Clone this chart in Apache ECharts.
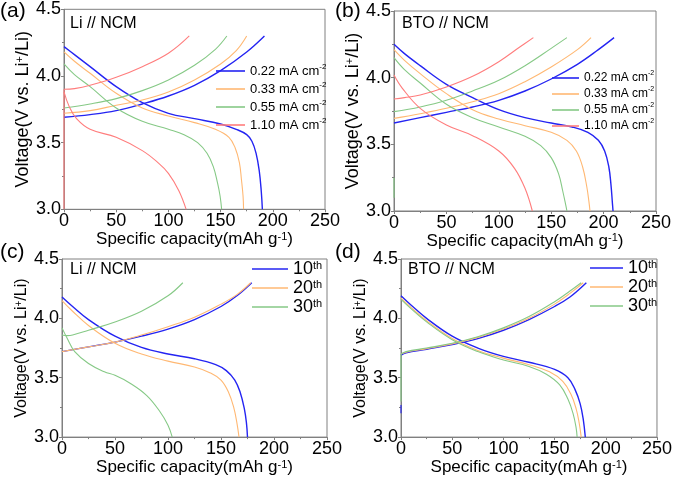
<!DOCTYPE html>
<html><head><meta charset="utf-8">
<script src="https://cdn.jsdelivr.net/npm/echarts@6/dist/echarts.min.js"></script>
<style>html,body{margin:0;padding:0;background:#fff}#c{width:675px;height:477px}</style>
</head><body><div id="c"></div>
<script>
// ---- tick / category data ----
const xMin = 0, xMax = 250, xStep = 50;
const yMin = 3.0, yMax = 4.5, yStep = 0.5;
const rateNames = ['0.22 mA cm-2', '0.33 mA cm-2', '0.55 mA cm-2', '1.10 mA cm-2'];
const cycleNames = ['10th', '20th', '30th'];
const panelLabels = ['(a)', '(b)', '(c)', '(d)'];
const panelTitles = ['Li // NCM', 'BTO // NCM', 'Li // NCM', 'BTO // NCM'];

// ---- (a) Li // NCM, rate ----
const aDis022 = [[0,4.22],[10,4.16],[25,4.07],[50,3.92],[75,3.80],[100,3.72],[125,3.68],[150,3.64],[165,3.60],[175,3.56],[180,3.51],[184,3.42],[187,3.29],[189,3.13],[190,3.0]];
const aChg022 = [[0,3.69],[25,3.71],[50,3.74],[75,3.79],[100,3.85],[125,3.93],[150,4.04],[175,4.18],[192,4.30]];
const aDis033 = [[0,4.18],[10,4.11],[25,4.02],[50,3.87],[75,3.76],[100,3.70],[125,3.65],[145,3.60],[158,3.54],[164,3.46],[168,3.35],[170,3.22],[171.5,3.1],[172,3.0]];
const aChg033 = [[0,3.72],[25,3.74],[50,3.78],[75,3.82],[100,3.88],[125,3.97],[150,4.09],[165,4.19],[175,4.30]];
const aDis055 = [[0,4.09],[10,4.01],[25,3.92],[50,3.76],[75,3.66],[100,3.60],[115,3.56],[128,3.50],[137,3.42],[143,3.32],[147,3.20],[149.5,3.1],[151,3.0]];
const aChg055 = [[0,3.76],[25,3.79],[50,3.83],[75,3.89],[100,3.97],[125,4.08],[145,4.20],[156,4.30]];
const aDis110 = [[0,3.88],[5,3.77],[12,3.68],[25,3.60],[50,3.54],[75,3.44],[90,3.35],[100,3.27],[110,3.14],[117,3.0]];
const aChg110 = [[0,3.90],[10,3.905],[25,3.93],[50,3.99],[75,4.07],[100,4.17],[120,4.30]];
const aRise110 = [[0,3.0],[0,3.90]];

// ---- (b) BTO // NCM, rate ----
const bDis022 = [[0,4.25],[10,4.18],[25,4.09],[50,3.95],[75,3.85],[100,3.76],[125,3.70],[150,3.66],[170,3.63],[185,3.59],[195,3.53],[201,3.45],[205,3.33],[207,3.2],[208.5,3.05],[209,3.0]];
const bChg022 = [[0,3.66],[25,3.70],[50,3.74],[75,3.78],[100,3.83],[125,3.90],[150,3.99],[175,4.10],[195,4.21],[210,4.30]];
const bDis033 = [[0,4.21],[10,4.13],[25,4.03],[50,3.88],[75,3.76],[100,3.69],[125,3.64],[150,3.59],[165,3.53],[174,3.45],[180,3.33],[184,3.18],[186,3.07],[187,3.0]];
const bChg033 = [[0,3.695],[25,3.73],[50,3.77],[75,3.82],[100,3.88],[125,3.97],[150,4.08],[175,4.21],[188,4.30]];
const bDis055 = [[0,4.15],[10,4.06],[25,3.96],[50,3.80],[75,3.70],[100,3.63],[125,3.56],[140,3.49],[150,3.40],[157,3.28],[161,3.15],[164,3.04],[165,3.0]];
const bChg055 = [[0,3.745],[25,3.78],[50,3.83],[75,3.90],[100,3.98],[125,4.09],[150,4.22],[165,4.30]];
const bDis110 = [[0,4.02],[8,3.92],[25,3.77],[50,3.645],[75,3.565],[100,3.45],[115,3.32],[125,3.17],[132,3.0]];
const bChg110 = [[0,3.84],[10,3.85],[25,3.87],[50,3.93],[75,4.01],[100,4.12],[120,4.23],[133,4.30]];
const bRise055 = [[0,3.1],[0,3.25]];

// ---- (c) Li // NCM, cycles ----
const cDis10 = [[0,4.18],[10,4.10],[25,3.99],[50,3.85],[75,3.755],[100,3.70],[125,3.66],[145,3.61],[155,3.56],[163,3.48],[168,3.38],[172,3.24],[174,3.12],[175,3.0]];
const cChg10 = [[0,3.72],[25,3.76],[50,3.80],[75,3.85],[100,3.91],[125,3.99],[150,4.10],[165,4.19],[179,4.30]];
const cDis20 = [[0,4.15],[10,4.06],[25,3.94],[50,3.79],[75,3.70],[100,3.64],[125,3.59],[140,3.54],[150,3.48],[157,3.38],[162,3.25],[165,3.12],[167,3.0]];
const cChg20 = [[0,3.72],[25,3.76],[50,3.80],[75,3.86],[100,3.93],[125,4.01],[150,4.12],[165,4.20],[178,4.30]];
const cDis30 = [[0,3.92],[5,3.83],[12,3.72],[25,3.62],[40,3.55],[50,3.52],[65,3.45],[80,3.35],[92,3.22],[100,3.1],[104,3.0]];
const cChg30 = [[0,3.86],[5,3.855],[10,3.86],[25,3.90],[50,3.97],[75,4.06],[100,4.19],[114,4.30]];

// ---- (d) BTO // NCM, cycles ----
const dDis10 = [[0,4.19],[10,4.11],[25,4.00],[50,3.85],[75,3.75],[100,3.68],[125,3.63],[150,3.57],[163,3.50],[170,3.40],[175,3.28],[178,3.15],[180,3.0]];
const dChg10 = [[0,3.69],[5,3.71],[25,3.74],[50,3.78],[75,3.83],[100,3.90],[125,3.99],[150,4.10],[165,4.18],[181,4.30]];
const dDis20 = [[0,4.17],[10,4.09],[25,3.98],[50,3.83],[75,3.73],[100,3.665],[125,3.61],[145,3.55],[158,3.47],[166,3.36],[171,3.24],[174,3.12],[176,3.0]];
const dChg20 = [[0,3.70],[5,3.715],[25,3.745],[50,3.785],[75,3.84],[100,3.91],[125,4.00],[150,4.12],[165,4.21],[178,4.30]];
const dDis30 = [[0,4.16],[10,4.08],[25,3.97],[50,3.82],[75,3.72],[100,3.65],[125,3.595],[142,3.53],[155,3.44],[163,3.32],[168,3.2],[171,3.08],[172,3.0]];
const dChg30 = [[0,3.70],[5,3.72],[25,3.75],[50,3.79],[75,3.845],[100,3.92],[125,4.015],[150,4.14],[165,4.23],[176,4.30]];
const dRise10 = [[0,3.2],[0,3.27]];
const dRise30 = [[0,3.3],[0,3.70]];

const colors = ['#2424f2', '#ffb873', '#86c986', '#ff7d7d'];
const FONT = '"Liberation Sans", Arial, sans-serif';

const grids = [
  {left: 64, top: 9.3, width: 261, height: 200},
  {left: 394, top: 11, width: 262, height: 200},
  {left: 62, top: 259, width: 265, height: 183},
  {left: 401, top: 259, width: 259, height: 183}
];
const xNameGap = [15, 15, 8, 8];
const yNameGap = [32, 30, 31, 27];
const yNameSize = [18, 18, 16, 16];

const supRich = (size, lh) => ({ sup: { fontSize: Math.round(size * 0.62), verticalAlign: 'top', fontFamily: FONT, color: '#000', lineHeight: lh, padding: [0, 0, size * 0.35, 0] } });

const xAxes = grids.map((g, i) => ({
  type: 'value', gridIndex: i, min: xMin, max: xMax, interval: xStep,
  name: 'Specific capacity(mAh g{sup|-1})', nameLocation: 'middle', nameGap: xNameGap[i],
  nameTextStyle: { fontSize: 17, fontFamily: FONT, color: '#000', rich: supRich(17) },
  axisLine: { show: true, onZero: false, lineStyle: { color: '#808080', width: 1 } },
  axisTick: { show: true, length: 3, lineStyle: { color: '#808080' } },
  minorTick: { show: true, splitNumber: 2, length: 2, lineStyle: { color: '#808080' } },
  splitLine: { show: false },
  axisLabel: { fontSize: 18, fontFamily: FONT, color: '#000', margin: 3 }
}));
const yAxes = grids.map((g, i) => ({
  type: 'value', gridIndex: i, min: yMin, max: yMax, interval: yStep,
  name: 'Voltage(V vs. Li{sup|+}/Li)', nameLocation: 'middle', nameGap: yNameGap[i], nameRotate: 90,
  nameTextStyle: { fontSize: yNameSize[i], fontFamily: FONT, color: '#000', rich: supRich(yNameSize[i]) },
  axisLine: { show: true, onZero: false, lineStyle: { color: '#808080', width: 1 } },
  axisTick: { show: true, length: 3, lineStyle: { color: '#808080' } },
  minorTick: { show: true, splitNumber: 2, length: 2, lineStyle: { color: '#808080' } },
  splitLine: { show: false },
  axisLabel: { fontSize: 18, fontFamily: FONT, color: '#000', margin: 3, formatter: v => v.toFixed(1) }
}));

const panels = [
  { names: rateNames, dis: [aDis022, aDis033, aDis055, aDis110], chg: [aChg022, aChg033, aChg055, aChg110], rises: [[3, aRise110]] },
  { names: rateNames, dis: [bDis022, bDis033, bDis055, bDis110], chg: [bChg022, bChg033, bChg055, bChg110], rises: [[2, bRise055]] },
  { names: cycleNames, dis: [cDis10, cDis20, cDis30], chg: [cChg10, cChg20, cChg30], rises: [] },
  { names: cycleNames, dis: [dDis10, dDis20, dDis30], chg: [dChg10, dChg20, dChg30], rises: [[0, dRise10], [2, dRise30]] }
];

const series = [];
panels.forEach((p, gi) => {
  p.names.forEach((nm, k) => {
    const lw = k === 0 ? 1.4 : 1.1;
    [p.dis[k], p.chg[k]].forEach(d => {
      series.push({ type: 'line', name: nm, xAxisIndex: gi, yAxisIndex: gi, data: d,
        smooth: 0.4, symbol: 'none', showSymbol: false,
        lineStyle: { color: colors[k], width: lw }, itemStyle: { color: colors[k] }, z: 2 + k });
    });
  });
  p.rises.forEach(([k, d]) => {
    series.push({ type: 'line', name: p.names[k] + ' ', xAxisIndex: gi, yAxisIndex: gi, data: d,
      symbol: 'none', lineStyle: { color: colors[k], width: 1.1 }, z: 6 });
  });
});

const rateFmt = n => n.replace('-2', '{sup|-2}');
const cycFmt = n => n.replace('th', '{sup|th}');
const legendBase = (left, top, w, gap, size, lh, fmt, names) => ({
  orient: 'vertical', left, top, padding: 0, itemWidth: w, itemHeight: 1.6, itemGap: gap,
  icon: 'rect', data: names, formatter: fmt, selectedMode: false,
  textStyle: { fontSize: size, lineHeight: lh, fontFamily: FONT, color: '#000', rich: supRich(size, lh) }
});

const titles = [];
const labelPos = [[0, 1], [335, 1], [0, 242], [335, 242]];
panelLabels.forEach((t, i) => titles.push({ text: t, left: labelPos[i][0], top: labelPos[i][1], padding: 0,
  textStyle: { fontSize: 21, fontWeight: 'normal', fontFamily: FONT, color: '#000' } }));
const titlePos = [[70, 16], [402, 16], [70, 262], [408, 262]];
panelTitles.forEach((t, i) => titles.push({ text: t, left: titlePos[i][0], top: titlePos[i][1], padding: 0,
  textStyle: { fontSize: 16, fontWeight: 'normal', fontFamily: FONT, color: '#000' } }));

const chart = echarts.init(document.getElementById('c'), null, { renderer: 'canvas' });
chart.setOption({
  backgroundColor: '#fff',
  animation: false,
  title: titles,
  grid: grids.map(g => Object.assign({ show: true, borderColor: '#808080', borderWidth: 1, containLabel: false }, g)),
  xAxis: xAxes,
  yAxis: yAxes,
  legend: [
    legendBase(216, 63, 29, 2, 13, 16, rateFmt, rateNames),
    legendBase(552, 70, 27, 0, 12, 16, rateFmt, rateNames),
    legendBase(252, 260, 36, 1, 18, 18, cycFmt, cycleNames),
    legendBase(590, 259, 33, 1, 18, 18, cycFmt, cycleNames)
  ],
  series
});
</script>
</body></html>
